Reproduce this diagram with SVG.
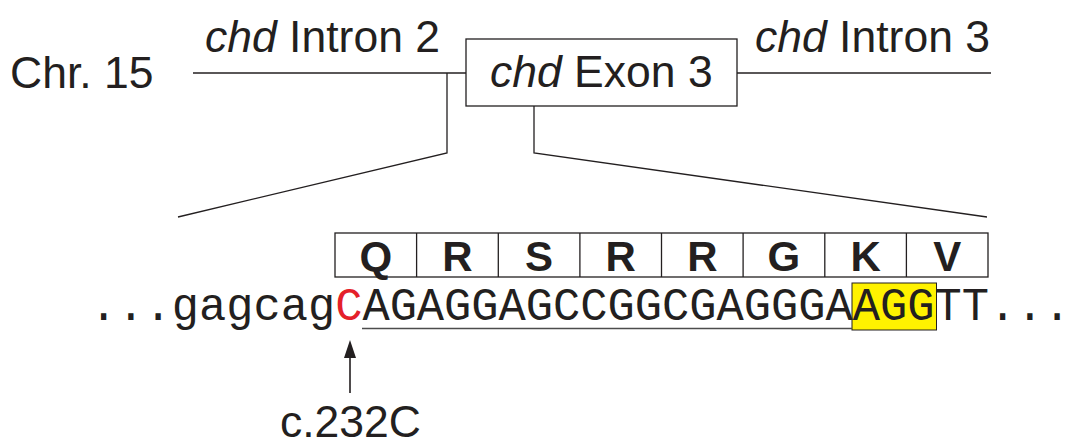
<svg xmlns="http://www.w3.org/2000/svg" width="1069" height="447" viewBox="0 0 1069 447">
<style>
.lbl{font-family:"Liberation Sans",Arial,sans-serif;font-size:44.5px;fill:#231f20}
.aa{font-family:"Liberation Sans",Arial,sans-serif;font-size:42px;font-weight:bold;fill:#231f20;text-anchor:middle}
.seq{font-family:"Liberation Mono","Courier New",monospace;font-size:45.4px;fill:#231f20}
.ln{stroke:#231f20;stroke-width:1.3;fill:none}
</style>
<rect width="1069" height="447" fill="#ffffff"/>
<g id="chr-label"><text class="lbl" x="10" y="88">Chr. 15</text></g>
<g id="intron2">
<line class="ln" x1="193" y1="73" x2="466" y2="73"/>
<text class="lbl" x="205" y="52"><tspan font-style="italic">chd</tspan> Intron 2</text>
</g>
<g id="exon3">
<rect class="ln" x="466" y="39" width="271" height="67"/>
<text class="lbl" x="490" y="87"><tspan font-style="italic">chd</tspan> Exon 3</text>
</g>
<g id="intron3">
<line class="ln" x1="737" y1="73" x2="991" y2="73"/>
<text class="lbl" x="755" y="52"><tspan font-style="italic">chd</tspan> Intron 3</text>
</g>
<g id="connectors">
<polyline class="ln" points="447,73 447,153 178,217"/>
<polyline class="ln" points="534,106 534,153 987,217"/>
<line x1="350" y1="393" x2="350" y2="356" stroke="#231f20" stroke-width="1.6"/>
<polygon points="350,340 344,358 356,358" fill="#231f20"/>
</g>
<g id="codons">
<rect class="ln" x="335" y="233" width="653" height="44"/>
<line class="ln" x1="416.6" y1="233" x2="416.6" y2="277"/>
<line class="ln" x1="498.3" y1="233" x2="498.3" y2="277"/>
<line class="ln" x1="579.9" y1="233" x2="579.9" y2="277"/>
<line class="ln" x1="661.5" y1="233" x2="661.5" y2="277"/>
<line class="ln" x1="743.1" y1="233" x2="743.1" y2="277"/>
<line class="ln" x1="824.8" y1="233" x2="824.8" y2="277"/>
<line class="ln" x1="906.4" y1="233" x2="906.4" y2="277"/>
<text class="aa" x="375.8" y="271">Q</text>
<text class="aa" x="457.4" y="271">R</text>
<text class="aa" x="539.1" y="271">S</text>
<text class="aa" x="620.7" y="271">R</text>
<text class="aa" x="702.3" y="271">R</text>
<text class="aa" x="783.9" y="271">G</text>
<text class="aa" x="865.6" y="271">K</text>
<text class="aa" x="947.2" y="271">V</text>
</g>
<g id="sequence">
<rect x="852" y="283" width="84.5" height="47" fill="#fff200" stroke="#231f20" stroke-width="1"/>
<line x1="362" y1="328.5" x2="852" y2="328.5" stroke="#4d4d4d" stroke-width="1.5"/>
<text class="seq" y="320"><tspan x="90">...gagcag</tspan><tspan x="335.2" fill="#e4202a">C</tspan><tspan x="362.4">AGAGGAGCCGGCGAGGGA</tspan><tspan x="852.8">AGG</tspan><tspan x="934.5">TT...</tspan></text>
</g>
<g id="mutation-label"><text class="lbl" x="280" y="437">c.232C</text></g>
</svg>
